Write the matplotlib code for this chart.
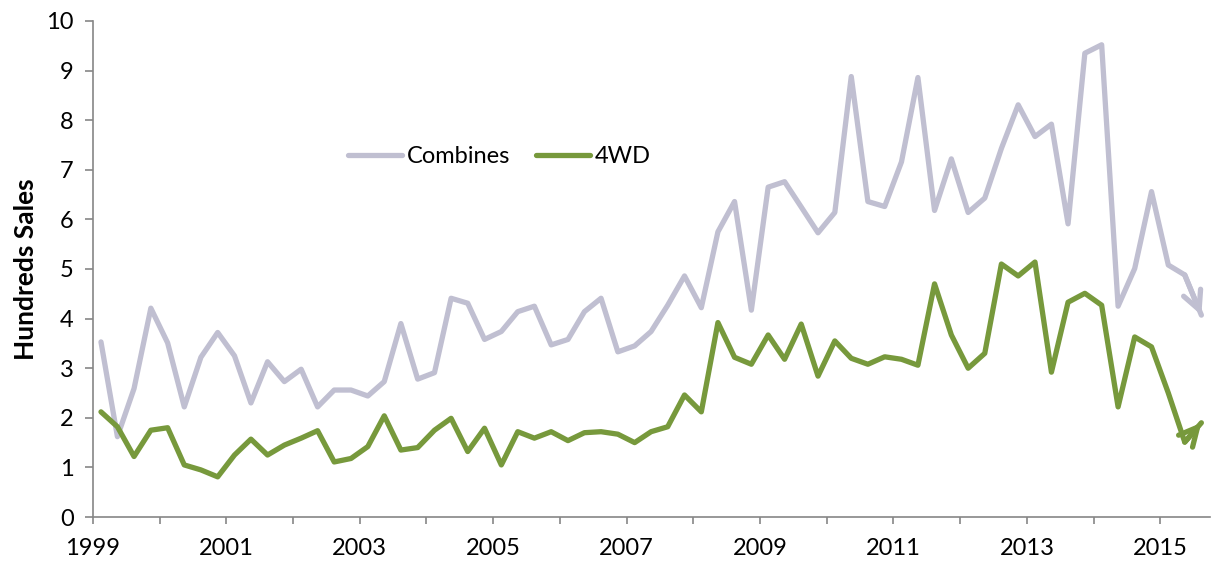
import matplotlib
matplotlib.use('Agg')
import matplotlib.pyplot as plt
import matplotlib.dates as mdates
import pandas as pd

plt.rcParams['font.family'] = ['Lato', 'DejaVu Sans']

# quarterly sales, hundreds of units, 1999Q1 - 2015Q3
first_quarter = '1999Q1'
last_quarter = '2015Q3'

combines = [3.53, 1.62, 2.59, 4.21, 3.51, 2.22, 3.22, 3.72, 3.25, 2.30,
            3.13, 2.73, 2.98, 2.22, 2.56, 2.56, 2.44, 2.73, 3.90, 2.78,
            2.91, 4.41, 4.31, 3.58, 3.74, 4.14, 4.25, 3.47, 3.58, 4.14,
            4.41, 3.33, 3.45, 3.74, 4.27, 4.86, 4.22, 5.75, 6.36, 4.17,
            6.65, 6.76, 6.25, 5.73, 6.14, 8.88, 6.36, 6.26, 7.16, 8.86,
            6.18, 7.22, 6.14, 6.43, 7.43, 8.31, 7.67, 7.92, 5.91, 9.35,
            9.52, 4.25, 5.01, 6.56, 5.08, 4.88, 4.07]

fourwd = [2.12, 1.82, 1.22, 1.75, 1.80, 1.05, 0.95, 0.81, 1.25, 1.57,
          1.25, 1.45, 1.59, 1.74, 1.11, 1.18, 1.42, 2.04, 1.35, 1.40,
          1.75, 1.99, 1.32, 1.79, 1.05, 1.72, 1.59, 1.72, 1.54, 1.70,
          1.72, 1.67, 1.50, 1.72, 1.82, 2.46, 2.12, 3.92, 3.22, 3.08,
          3.67, 3.18, 3.89, 2.84, 3.55, 3.20, 3.08, 3.23, 3.18, 3.06,
          4.70, 3.67, 3.00, 3.30, 5.10, 4.86, 5.14, 2.92, 4.33, 4.51,
          4.27, 2.22, 3.63, 3.43, 2.50, 1.51, 1.90]

series_names = ['Combines', '4WD']
series_colors = ['#C0BFD1', '#77993C']

# plot each quarter at the middle of its second month
quarters = pd.period_range(first_quarter, last_quarter, freq='Q')
dates = [q.start_time + pd.Timedelta(days=44) for q in quarters]
xnum = mdates.date2num(dates)

fig = plt.figure(figsize=(12.15, 5.64), dpi=100)
ax = fig.add_axes([0.0765, 0.0833, 0.9195, 0.8795])

for vals, name, col in zip([combines, fourwd], series_names, series_colors):
    ax.plot(xnum, vals, color=col, lw=3.8, label=name,
            solid_joinstyle='round', solid_capstyle='round')
    # arrow on the last segment
    ax.annotate('', xy=(xnum[-1], vals[-1]), xytext=(xnum[-2], vals[-2]),
                arrowprops=dict(arrowstyle='->,head_length=1.1,head_width=0.55',
                                color=col, lw=3.8, shrinkA=0, shrinkB=0,
                                mutation_scale=12))

ax.set_ylim(0, 10)
ax.set_yticks(range(0, 11))
ax.set_xlim(mdates.date2num(pd.Timestamp('1999-01-01')),
            mdates.date2num(pd.Timestamp('2015-10-01')))

ax.xaxis.set_major_locator(mdates.YearLocator(1))
ax.xaxis.set_major_formatter(
    plt.FuncFormatter(lambda v, p: str(mdates.num2date(v).year)
                      if mdates.num2date(v).year % 2 == 1 else ''))

for s in ['top', 'right']:
    ax.spines[s].set_visible(False)
for s in ['left', 'bottom']:
    ax.spines[s].set_color('#868686')
    ax.spines[s].set_linewidth(1.2)

ax.tick_params(axis='y', length=6, width=1.2, color='#868686', labelsize=17, pad=8)
ax.tick_params(axis='x', length=5, width=1.2, color='#868686', labelsize=17, pad=10)

ax.set_ylabel('Hundreds Sales', fontsize=19, fontweight='bold', labelpad=6)

ax.legend(loc='center left', bbox_to_anchor=(0.228, 0.726), ncol=2, frameon=False,
          fontsize=17, handlelength=2.3, handletextpad=0.2, columnspacing=1.1,
          borderpad=0, borderaxespad=0)

plt.savefig('out.png', dpi=100)
plt.close()
